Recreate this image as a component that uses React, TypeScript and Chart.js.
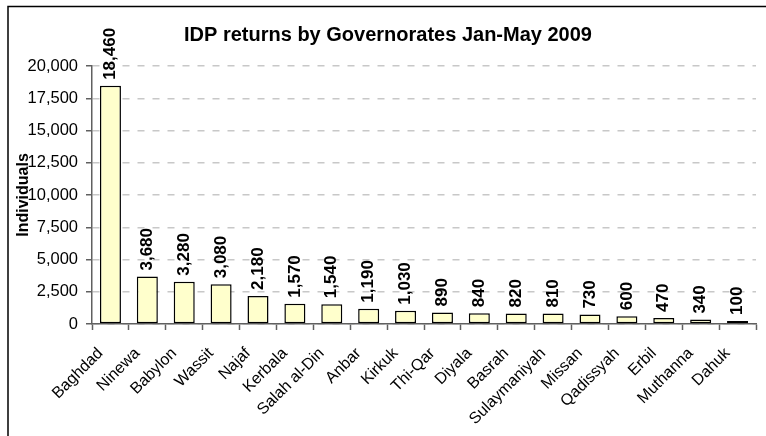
import React, { useEffect, useRef } from 'react';
import { Chart, registerables } from 'chart.js';

Chart.register(...registerables);

const FONT = '"Liberation Sans", Arial, Helvetica, sans-serif';

const chartTitle = 'IDP returns by Governorates Jan-May 2009';
const yAxisTitle = 'Individuals';
const categories = [
  'Baghdad', 'Ninewa', 'Babylon', 'Wassit', 'Najaf', 'Kerbala', 'Salah al-Din', 'Anbar', 'Kirkuk',
  'Thi-Qar', 'Diyala', 'Basrah', 'Sulaymaniyah', 'Missan', 'Qadissyah', 'Erbil', 'Muthanna', 'Dahuk',
];
const returnsValues = [18460, 3680, 3280, 3080, 2180, 1570, 1540, 1190, 1030, 890, 840, 820, 810, 730, 600, 470, 340, 100];
const yMin = 0;
const yMax = 20000;
const yStep = 2500;

const fmt = (v: number) => Number(v).toLocaleString('en-US');

const framePlugin = {
  id: 'frame',
  beforeDraw(chart: any) {
    const ctx = chart.ctx;
    ctx.save();
    ctx.fillStyle = '#ffffff';
    ctx.fillRect(0, 0, chart.width, chart.height);
    ctx.strokeStyle = '#000000';
    ctx.lineWidth = 1.5;
    ctx.strokeRect(8, 6.5, chart.width + 20, chart.height + 20);
    ctx.restore();
  },
};

const valueLabelPlugin = {
  id: 'valueLabels',
  afterDatasetsDraw(chart: any) {
    const ctx = chart.ctx;
    const meta = chart.getDatasetMeta(0);
    const data = chart.data.datasets[0].data as number[];
    ctx.save();
    ctx.font = `bold 17px ${FONT}`;
    ctx.fillStyle = '#000000';
    ctx.textAlign = 'left';
    ctx.textBaseline = 'middle';
    meta.data.forEach((bar: any, i: number) => {
      ctx.save();
      ctx.translate(bar.x, bar.y - 6);
      ctx.rotate(-Math.PI / 2);
      ctx.fillText(fmt(data[i]), 0, 0);
      ctx.restore();
    });
    ctx.restore();
  },
};

export default function App() {
  const ref = useRef<HTMLCanvasElement>(null);

  useEffect(() => {
    if (!ref.current) return;
    const chart = new Chart(ref.current, {
      type: 'bar',
      data: {
        labels: categories,
        datasets: [
          {
            data: returnsValues,
            backgroundColor: '#ffffcc',
            borderColor: '#000000',
            borderWidth: 1.5,
            borderSkipped: false,
            minBarLength: 3,
            barPercentage: 0.57,
            categoryPercentage: 1,
          },
        ],
      },
      options: {
        responsive: false,
        animation: false,
        devicePixelRatio: 1,
        layout: { padding: { left: 20, right: 10, top: 0, bottom: 0 } },
        plugins: {
          legend: { display: false },
          tooltip: { enabled: false },
          title: {
            display: true,
            text: chartTitle,
            color: '#000000',
            font: { family: FONT, size: 20, weight: 'bold', lineHeight: 1.2 },
            padding: { top: 23, bottom: 19 },
          },
        },
        scales: {
          x: {
            grid: {
              display: true,
              drawOnChartArea: false,
              offset: true,
              tickLength: 6,
              tickColor: '#606060',
              tickWidth: 1.5,
              tickBorderDash: [],
            },
            border: { display: true, color: '#606060', width: 1.5 },
            ticks: {
              color: '#000000',
              font: { family: FONT, size: 16 },
              minRotation: 45,
              maxRotation: 45,
              autoSkip: false,
              padding: 14,
              labelOffset: -10,
            },
            afterFit: (s: any) => {
              s.height = 112;
            },
          },
          y: {
            min: yMin,
            max: yMax,
            grid: {
              color: '#c8c8c8',
              lineWidth: 1.5,
              tickLength: 6,
              tickColor: '#606060',
              tickWidth: 1.5,
              tickBorderDash: [],
            },
            border: { display: true, color: '#606060', width: 1.5, dash: [7, 8] },
            ticks: {
              stepSize: yStep,
              color: '#000000',
              font: { family: FONT, size: 16.5 },
              padding: 8,
              callback: (v: any) => fmt(v),
            },
            title: {
              display: true,
              text: yAxisTitle,
              color: '#000000',
              font: { family: FONT, size: 16, weight: 'bold', lineHeight: 1.2 },
              padding: { top: -6, bottom: 0 },
            },
            afterFit: (s: any) => {
              s.width = 72;
            },
          },
        },
      },
      plugins: [framePlugin, valueLabelPlugin],
    });
    return () => chart.destroy();
  }, []);

  return (
    <div style={{ position: 'absolute', left: 0, top: 0, width: 766, height: 436 }}>
      <canvas ref={ref} width={766} height={436} style={{ display: 'block', width: 766, height: 436 }} />
    </div>
  );
}
